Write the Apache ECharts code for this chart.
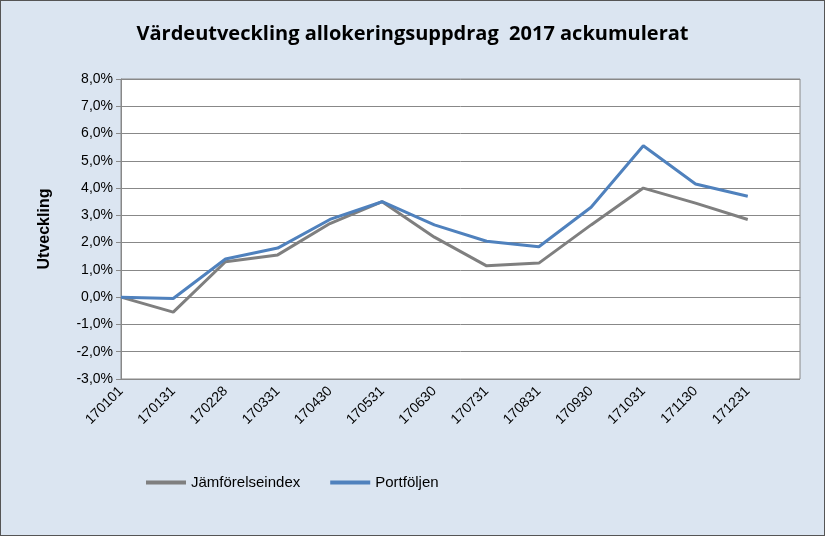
<!DOCTYPE html>
<html><head><meta charset="utf-8">
<script src="https://cdn.jsdelivr.net/npm/echarts@6/dist/echarts.min.js"></script>
<style>html,body{margin:0;padding:0}#c{width:825px;height:536px;box-sizing:border-box;border:1px solid #555;background:#dbe5f1}</style>
</head><body><div id="c"></div>
<script>
const dates = ['170101','170131','170228','170331','170430','170531','170630','170731','170831','170930','171031','171130','171231'];
const jamforelse = [0, -0.55, 1.3, 1.55, 2.7, 3.5, 2.2, 1.15, 1.25, 2.65, 4.0, 3.45, 2.85];
const portfoljen = [0, -0.05, 1.4, 1.8, 2.85, 3.5, 2.65, 2.05, 1.85, 3.3, 5.55, 4.15, 3.7];

const chart = echarts.init(document.getElementById('c'));
const pct = v => v.toFixed(1).replace('.', ',') + '%';
chart.setOption({
  animation: false,
  textStyle: { fontFamily: 'Liberation Sans, Arial' },
  title: { text: 'Värdeutveckling allokeringsuppdrag  2017 ackumulerat', left: 'center', top: 18,
    textStyle: { fontSize: 20, fontWeight: 'bold', color: '#000', fontFamily: 'Open Sans, Calibri' } },
  legend: { bottom: 40, left: 140, itemGap: 30, itemWidth: 40, icon: 'path://M0,0h40v4h-40z',
    textStyle: { fontSize: 15, color: '#000' }, data: ['Jämförelseindex', 'Portföljen'] },
  grid: { left: 120, right: 24, top: 78, bottom: 156, show: true, backgroundColor: '#fff', borderColor: '#888' },
  xAxis: { type: 'category', data: dates.concat(['']), boundaryGap: false,
    axisLine: { lineStyle: { color: '#888' } }, axisTick: { show: false },
    axisLabel: { rotate: 45, color: '#000', fontSize: 14, margin: 10 } },
  yAxis: { type: 'value', min: -3, max: 8, interval: 1, name: 'Utveckling', nameLocation: 'middle', nameGap: 68,
    nameTextStyle: { fontSize: 16, fontWeight: 'bold', color: '#000' },
    axisLabel: { formatter: pct, color: '#000', fontSize: 14 },
    axisLine: { show: true, lineStyle: { color: '#888' } }, axisTick: { show: true, lineStyle: { color: '#888' } },
    splitLine: { lineStyle: { color: '#888' } } },
  series: [
    { name: 'Jämförelseindex', type: 'line', data: jamforelse, symbol: 'none', color: '#7f7f7f', lineStyle: { width: 3 } },
    { name: 'Portföljen', type: 'line', data: portfoljen, symbol: 'none', color: '#4f81bd', lineStyle: { width: 3 } }
  ]
});
</script></body></html>
